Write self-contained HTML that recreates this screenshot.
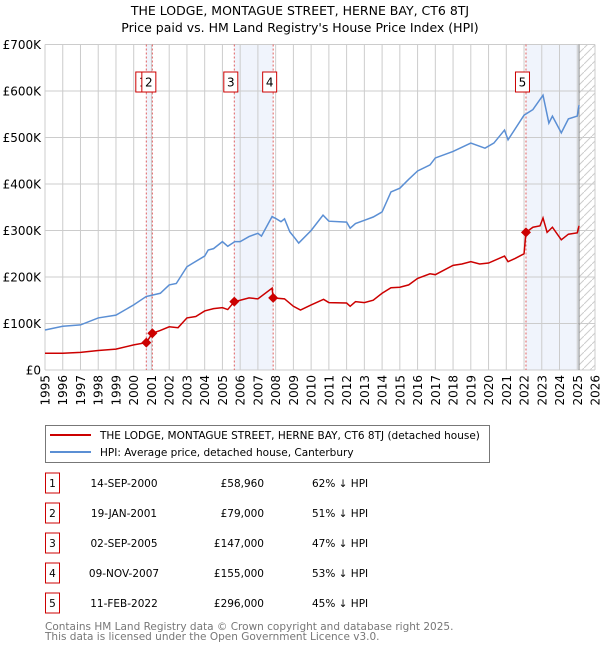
<!DOCTYPE html>
<html><head><meta charset="utf-8"><style>
body{margin:0;background:#fff;font-family:"DejaVu Sans","Liberation Sans",sans-serif;}
svg{display:block}
</style></head><body>
<svg id="c" width="600" height="650" xmlns="http://www.w3.org/2000/svg" font-family="DejaVu Sans, Liberation Sans, sans-serif"></svg>
<script>
const years=[1995,1996,1997,1998,1999,2000,2001,2002,2003,2004,2005,2006,2007,2008,2009,2010,2011,2012,2013,2014,2015,2016,2017,2018,2019,2020,2021,2022,2023,2024,2025,2026];
const yTicks=[0,100,200,300,400,500,600,700];
const yTickLabels=["£0","£100K","£200K","£300K","£400K","£500K","£600K","£700K"];
const hpiT=[1995,1996,1997,1998,1999,2000,2000.7,2001.5,2002,2002.4,2003,2003.3,2004,2004.2,2004.5,2005,2005.3,2005.7,2006,2006.5,2007,2007.2,2007.8,2008,2008.3,2008.5,2008.8,2009.1,2009.3,2010,2010.67,2011,2012,2012.2,2012.5,2013,2013.5,2014,2014.5,2015,2015.5,2016,2016.7,2017,2018,2019,2019.8,2020.3,2020.9,2021.1,2022,2022.5,2023.07,2023.4,2023.6,2024.1,2024.5,2025,2025.1];
const hpiV=[86,94,97,112,118,140,158,165,183,186,222,229,245,258,261,276,266,276,276,287,294,288,330,326,319,325,297,283,273,300,333,320,318,305,315,322,329,340,383,391,410,428,441,456,470,488,477,488,516,495,548,560,591,531,546,510,540,546,570];
const redT=[1995,1996,1997,1998,1999,2000,2000.71,2001.05,2001.5,2002,2002.5,2003,2003.5,2004,2004.5,2005,2005.3,2005.67,2006,2006.5,2007,2007.8,2007.86,2008.5,2009,2009.4,2010,2010.7,2011,2012,2012.2,2012.5,2013,2013.5,2014,2014.5,2015,2015.5,2016,2016.7,2017,2018,2018.5,2019,2019.5,2020,2020.9,2021.1,2021.5,2022.0,2022.11,2022.5,2022.9,2023.07,2023.3,2023.6,2024.1,2024.5,2025,2025.1];
const redV=[36,36,38,42,45,54,59,79,85,93,91,112,115,127,132,134,130,147,150,155,153,176,155,153,137,129,140,152,145,144,137,147,145,150,165,177,178,183,197,207,205,225,228,233,228,230,245,233,240,250,296,307,310,327,296,307,280,292,295,310];
const saleT=[2000.71,2001.05,2005.67,2007.86,2022.11];
const saleV=[58.96,79,147,155,296];
const saleLabels=["1","2","3","4","5"];
const shadeRanges=[[2000.71,2001.05],[2005.67,2007.86],[2022.11,2025.1]];
const saleDates=["14-SEP-2000","19-JAN-2001","02-SEP-2005","09-NOV-2007","11-FEB-2022"];
const salePrices=["£58,960","£79,000","£147,000","£155,000","£296,000"];
const saleHpi=["62% ↓ HPI","51% ↓ HPI","47% ↓ HPI","53% ↓ HPI","45% ↓ HPI"];

const NS="http://www.w3.org/2000/svg";
const svg=document.getElementById('c');
const X0=45,X1=595,Y0=370,Y1=44.5;
const xs=t=>X0+(t-1995)*(X1-X0)/31;
const ys=v=>Y0-v*(Y0-Y1)/700;
function mk(tag,attrs,parent){const e=document.createElementNS(NS,tag);for(const k in attrs)e.setAttribute(k,attrs[k]);(parent||svg).appendChild(e);return e;}

let t=mk('text',{x:300,y:15,'text-anchor':'middle','font-size':12.5,fill:'#000'});t.textContent="THE LODGE, MONTAGUE STREET, HERNE BAY, CT6 8TJ";


t=mk('text',{x:300,y:32,'text-anchor':'middle','font-size':12.5,fill:'#000'});t.textContent="Price paid vs. HM Land Registry's House Price Index (HPI)";



shadeRanges.forEach(r=>{const e=mk('rect',{x:xs(r[0]),y:Y1,width:xs(r[1])-xs(r[0]),height:Y0-Y1,fill:'#f0f4fc'});

});
const defs=mk('defs',{});
const pat=mk('pattern',{id:'h',width:8,height:8,patternUnits:'userSpaceOnUse'},defs);
mk('path',{d:'M0,8 L8,0',stroke:'#ccc','stroke-width':1},pat);
let hr=mk('rect',{x:xs(2025.1),y:Y1,width:X1-xs(2025.1),height:Y0-Y1,fill:'url(#h)'});



years.forEach(y=>{const e=mk('line',{x1:xs(y),x2:xs(y),y1:Y1,y2:Y0,stroke:'#ccc','stroke-width':1});


const tx=mk('text',{transform:`translate(${xs(y)+4.5},${Y0+5}) rotate(-90)`,'text-anchor':'end','font-size':12,fill:'#000'});tx.textContent=y;

});
yTicks.forEach((v,i)=>{const e=mk('line',{x1:X0,x2:X1,y1:ys(v),y2:ys(v),stroke:'#ccc','stroke-width':1});


const tx=mk('text',{x:X0-4,y:ys(v)+4.5,'text-anchor':'end','font-size':12,fill:'#000'});tx.textContent=yTickLabels[i];

});
let vl=mk('line',{x1:xs(2025.1),x2:xs(2025.1),y1:Y1,y2:Y0,stroke:'#888','stroke-width':1});



saleT.forEach(s=>{const e=mk('line',{x1:xs(s),x2:xs(s),y1:Y1,y2:Y0,stroke:'#e06060','stroke-width':1,'stroke-dasharray':'2,2'});

});

let hp=mk('polyline',{points:hpiT.map((x,i)=>xs(x)+','+ys(hpiV[i])).join(' '),fill:'none',stroke:'#5b8fd4','stroke-width':1.5});


let rp=mk('polyline',{points:redT.map((x,i)=>xs(x)+','+ys(redV[i])).join(' '),fill:'none',stroke:'#cc0000','stroke-width':1.5});


saleT.forEach((s,i)=>{const cx=xs(s),cy=ys(saleV[i]);
const d=mk('path',{d:`M${cx},${cy-5} L${cx+5},${cy} L${cx},${cy+5} L${cx-5},${cy}Z`,fill:'#cc0000'});


const g=mk('g',{});


mk('rect',{x:cx-10.5,y:72,width:14,height:20,fill:'#fff',stroke:'#cc0000','stroke-width':1},g);
const tx=mk('text',{x:cx-3.5,y:86.5,'text-anchor':'middle','font-size':12,fill:'#000'},g);tx.textContent=saleLabels[i];});

const lg=mk('g',{});


mk('rect',{x:45.5,y:425.5,width:444,height:37,fill:'#fff',stroke:'#777','stroke-width':1},lg);
mk('line',{x1:50,x2:91,y1:435,y2:435,stroke:'#cc0000','stroke-width':2},lg);
mk('line',{x1:50,x2:91,y1:452,y2:452,stroke:'#5b8fd4','stroke-width':2},lg);
t=mk('text',{x:100,y:439,'font-size':10.5,fill:'#000'},lg);t.textContent="THE LODGE, MONTAGUE STREET, HERNE BAY, CT6 8TJ (detached house)";


t=mk('text',{x:100,y:456,'font-size':10.5,fill:'#000'},lg);t.textContent="HPI: Average price, detached house, Canterbury";



saleLabels.forEach((l,i)=>{const cy=483+30*i;
const g=mk('g',{});


mk('rect',{x:45.5,y:cy-10,width:14,height:20,fill:'#fff',stroke:'#cc0000','stroke-width':1},g);
let a=mk('text',{x:52.5,y:cy+4,'text-anchor':'middle','font-size':10.5,fill:'#000'},g);a.textContent=l;
a=mk('text',{x:124,y:cy+4,'text-anchor':'middle','font-size':10.5,fill:'#000'},g);a.textContent=saleDates[i];
a=mk('text',{x:264,y:cy+4,'text-anchor':'end','font-size':10.5,fill:'#000'},g);a.textContent=salePrices[i];
a=mk('text',{x:312,y:cy+4,'font-size':10.5,fill:'#000'},g);a.textContent=saleHpi[i];});

t=mk('text',{x:45,y:630,'font-size':10.5,fill:'#777'});t.textContent="Contains HM Land Registry data © Crown copyright and database right 2025.";


t=mk('text',{x:45,y:640,'font-size':10.5,fill:'#777'});t.textContent="This data is licensed under the Open Government Licence v3.0.";


</script>
</body></html>
